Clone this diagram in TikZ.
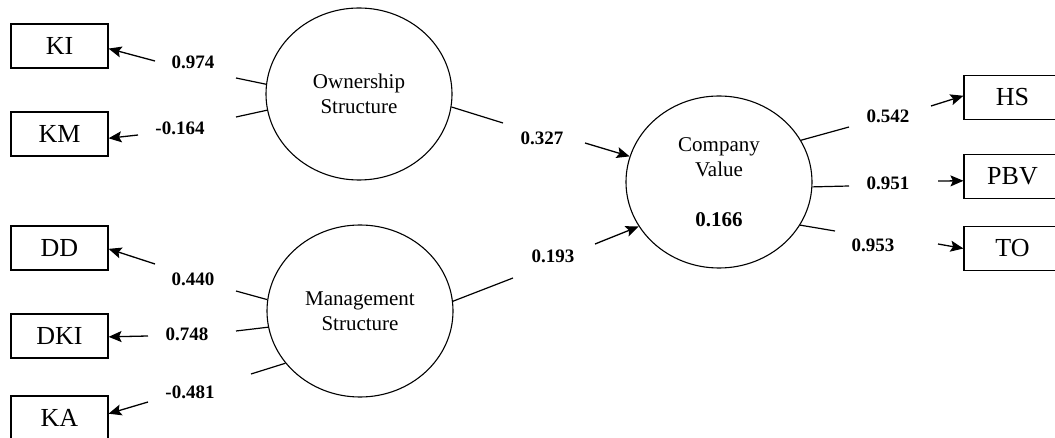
\documentclass[tikz,border=0pt]{standalone}
\usepackage{fontspec}
\setmainfont{Liberation Serif}
\usetikzlibrary{shapes.geometric,arrows.meta}
\tikzset{
  latent/.style={ellipse, draw, line width=1.1pt, minimum width=186pt, minimum height=172pt,
    inner sep=0pt, align=center, font=\fontsize{21}{25}\selectfont},
  manifest/.style={rectangle, draw, line width=1.1pt, minimum width=97pt, minimum height=44pt,
    inner sep=0pt, font=\fontsize{26}{30}\selectfont},
  coef/.style={font=\fontsize{19}{22}\selectfont\bfseries, inner sep=0pt},
  seg/.style={line width=1.2pt},
  arr/.style={line width=1.3pt, -{Stealth[length=13pt,width=11pt,inset=2.5pt]}}
}
\begin{document}
\begin{tikzpicture}[x=1pt,y=-1pt]
\useasboundingbox (0,0) rectangle (1055,438);
\clip (0,0) rectangle (1055,438);
% latent variables
\node[latent] (os) at (359,94) {Ownership\\Structure};
\node[latent] (ms) at (360,311) {Management\\Structure};
\node[latent] (cv) at (719,182) {Company\\Value\\[25pt]{\bfseries 0.166}};
% indicators
\node[manifest] (ki)  at (59.5,46)  {KI};
\node[manifest] (km)  at (59.5,134) {KM};
\node[manifest] (dd)  at (59.5,248) {DD};
\node[manifest] (dki) at (59.5,336) {DKI};
\node[manifest] (ka)  at (59.5,418) {KA};
\node[manifest] (hs)  at (1012.5,97.5)  {HS};
\node[manifest] (pbv) at (1012.5,176.5) {PBV};
\node[manifest] (to)  at (1012.5,248.5) {TO};
% segment ends
\coordinate (s_ki)  at (236,78);
\coordinate (s_km)  at (236,117);
\coordinate (s_dd)  at (236,291);
\coordinate (s_dki) at (236,331);
\coordinate (s_ka)  at (251,374);
\coordinate (s_os)  at (503,123);
\coordinate (s_ms)  at (513,278);
\coordinate (s_hs)  at (849,127);
\coordinate (s_pbv) at (849,186);
\coordinate (s_to)  at (835,231);
% arrow starts
\coordinate (a_ki)  at (155,61);
\coordinate (a_km)  at (138,135);
\coordinate (a_dd)  at (155,264);
\coordinate (a_dki) at (148,336);
\coordinate (a_ka)  at (148,402);
\coordinate (a_os)  at (585,143);
\coordinate (a_ms)  at (595,244);
\coordinate (a_hs)  at (931,106);
\coordinate (a_pbv) at (938,181);
\coordinate (a_to)  at (938,244);
% segments at the circles
\draw[seg] (os.174.4) -- (s_ki);
\draw[seg] (os.190.5) -- (s_km);
\draw[seg] (ms.173.9) -- (s_dd);
\draw[seg] (ms.190.4) -- (s_dki);
\draw[seg] (ms.215.5) -- (s_ka);
\draw[seg] (os.352) -- (s_os);
\draw[seg] (ms.6.7) -- (s_ms);
\draw[seg] (cv.27.7) -- (s_hs);
\draw[seg] (cv.357) -- (s_pbv);
\draw[seg] (cv.332.3) -- (s_to);
% arrows
\draw[arr] (a_ki) -- (ki.-3.5);
\draw[arr] (a_km) -- (km.-5.9);
\draw[arr] (a_dd) -- (dd.-1.2);
\draw[arr] (a_dki) -- (dki.-1.2);
\draw[arr] (a_ka) -- (ka.5.9);
\draw[arr] (a_os) -- (cv.164.5);
\draw[arr] (a_ms) -- (cv.209.2);
\draw[arr] (a_hs) -- (hs.178.2);
\draw[arr] (a_pbv) -- (pbv.185.3);
\draw[arr] (a_to) -- (to.180.6);
% coefficients
\node[coef] (l_ki)  at (193,62)  {0.974};
\node[coef] (l_km)  at (180,128) {-0.164};
\node[coef] (l_dd)  at (193,279) {0.440};
\node[coef] (l_dki) at (187,334) {0.748};
\node[coef] (l_ka)  at (190,392) {-0.481};
\node[coef] (l_os)  at (542,138) {0.327};
\node[coef] (l_ms)  at (553,256) {0.193};
\node[coef] (l_hs)  at (888,116) {0.542};
\node[coef] (l_pbv) at (888,183) {0.951};
\node[coef] (l_to)  at (873,245) {0.953};
\end{tikzpicture}
\end{document}
